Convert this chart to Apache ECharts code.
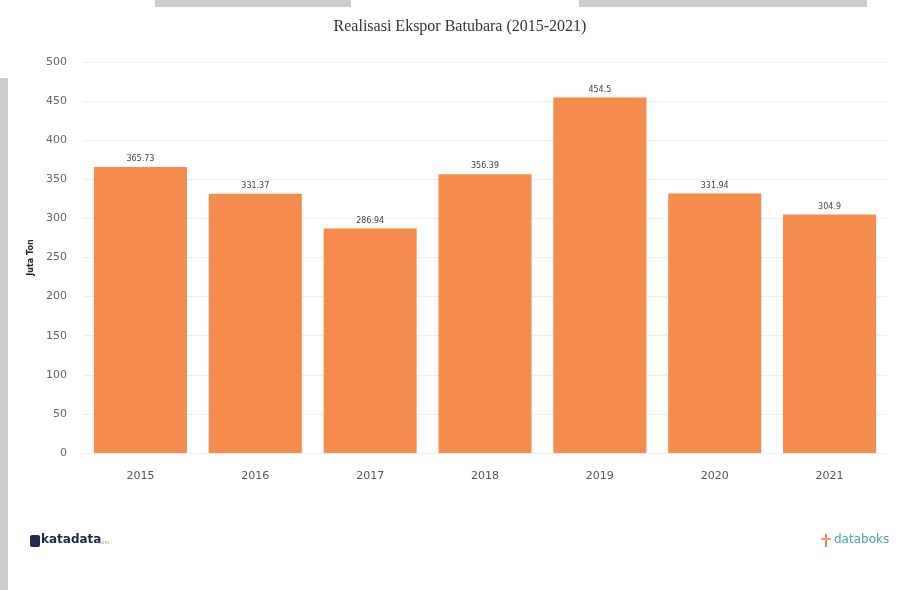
<!DOCTYPE html>
<html><head><meta charset="utf-8">
<script src="https://cdn.jsdelivr.net/npm/echarts@6/dist/echarts.min.js"></script>
<style>html,body{margin:0;padding:0;background:#fff}#c{width:915px;height:590px}</style>
</head><body><div id="c"></div>
<script>
var categories = ['2015','2016','2017','2018','2019','2020','2021'];
var values = [365.73, 331.37, 286.94, 356.39, 454.5, 331.94, 304.9];
var valueLabels = ['365.73','331.37','286.94','356.39','454.5','331.94','304.9'];
var yTicks = [0, 50, 100, 150, 200, 250, 300, 350, 400, 450, 500];

var chart = echarts.init(document.getElementById('c'), null, {renderer:'canvas'});
chart.setOption({
  animation:false,
  backgroundColor:'#fff',
  title:{text:'Realisasi Ekspor Batubara (2015-2021)', left:455, textAlign:'center', top:14,
    textStyle:{fontFamily:'Liberation Serif', fontWeight:'normal', fontSize:16, color:'#333'}},
  grid:{left:83, right:28, top:62, bottom:137},
  xAxis:{type:'category', data:categories,
    axisLine:{show:false}, axisTick:{show:false},
    axisLabel:{color:'#555', fontSize:11, margin:18, fontFamily:'DejaVu Sans'}},
  yAxis:{type:'value', min:yTicks[0], max:yTicks[yTicks.length-1], interval:50,
    name:'Juta Ton', nameLocation:'middle', nameGap:42, nameRotate:90,
    nameTextStyle:{fontSize:8, fontWeight:'bold', color:'#222', fontFamily:'DejaVu Sans'},
    axisLine:{show:false}, axisTick:{show:false},
    axisLabel:{color:'#666', fontSize:11, margin:16, fontFamily:'DejaVu Sans'},
    splitLine:{lineStyle:{color:'#eeeeee'}}},
  series:[{type:'bar', data:values, barCategoryGap:'19%',
    itemStyle:{color:'#F58B4C'},
    label:{show:true, position:'top', distance:4, fontSize:8, color:'#444', fontFamily:'DejaVu Sans',
      formatter:function(p){return valueLabels[p.dataIndex];}}}],
  graphic:[
    {type:'rect', shape:{x:155,y:0,width:196,height:7}, style:{fill:'#cccccc'}},
    {type:'rect', shape:{x:579,y:0,width:288,height:7}, style:{fill:'#cccccc'}},
    {type:'rect', shape:{x:0,y:78,width:8,height:512}, style:{fill:'#cccccc'}},
    {type:'rect', shape:{x:30,y:535,width:10,height:12,r:2}, style:{fill:'#1e2a4a'}},
    {type:'text', left:41, top:534, style:{text:'katadata', fontSize:12, fontWeight:'bold', fill:'#1e2a4a', fontFamily:'DejaVu Sans'}},
    {type:'text', left:97, top:540, style:{text:'.com', fontSize:5, fill:'#999', fontFamily:'DejaVu Sans'}},
    {type:'rect', shape:{x:825,y:534,width:2,height:13}, style:{fill:'#f07a5a'}},
    {type:'rect', shape:{x:821,y:538,width:10,height:2}, style:{fill:'#f2a07a'}},
    {type:'text', left:834, top:534, style:{text:'databoks', fontSize:12, fill:'#4aa3a8', fontFamily:'DejaVu Sans'}}
  ]
});
</script></body></html>
